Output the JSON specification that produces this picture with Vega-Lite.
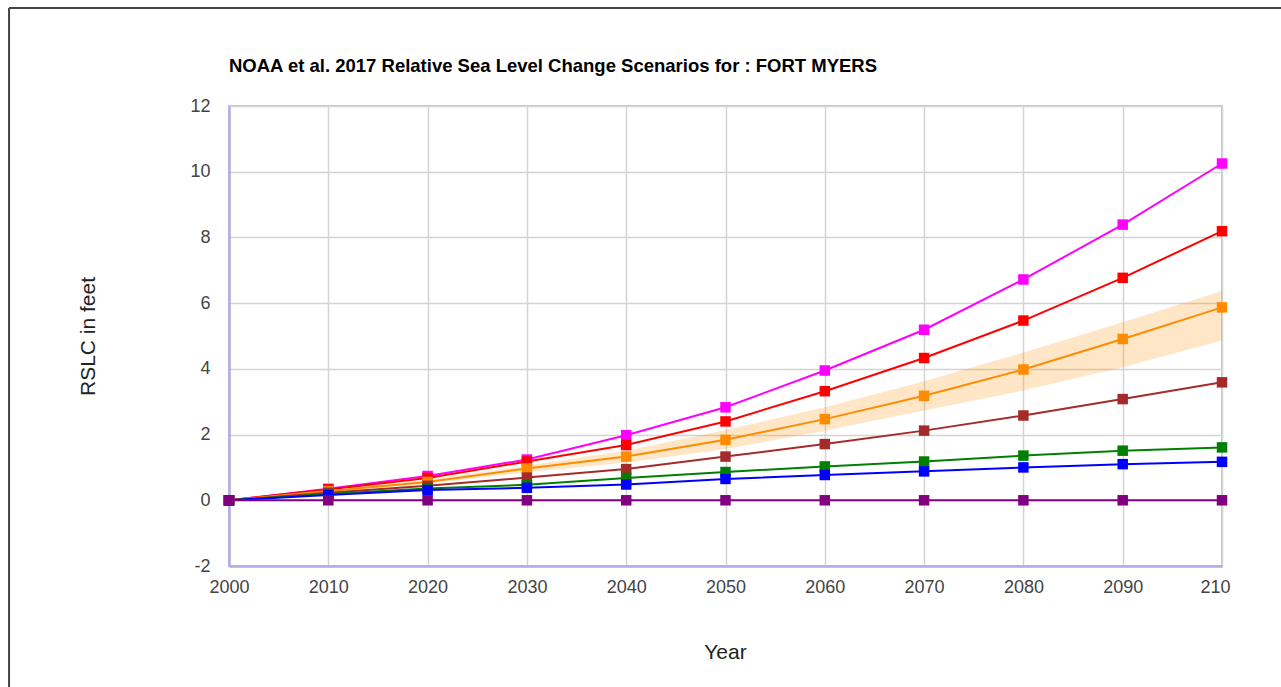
{
 "$schema": "https://vega.github.io/schema/vega-lite/v6.json",
 "width": 993, "height": 460,
 "autosize": {"type": "none"},
 "padding": {"left": 229, "top": 106, "right": 59, "bottom": 121},
 "background": "white",
 "title": {"text": "NOAA et al. 2017 Relative Sea Level Change Scenarios for : FORT MYERS", "anchor": "start", "frame": "group", "font": "Liberation Sans", "fontSize": 18.5, "fontWeight": "bold", "color": "#000", "offset": 7, "dy": 90, "baseline": "alphabetic"},
 "config": {"view": {"stroke": "#c6c1ea", "strokeWidth": 2}, "font": "Liberation Sans"},
 "datasets": {
  "band": [
   {"year": 2000, "lo": 0, "hi": 0},
   {"year": 2010, "lo": 0.25, "hi": 0.31},
   {"year": 2020, "lo": 0.5, "hi": 0.62},
   {"year": 2030, "lo": 0.85, "hi": 1.06},
   {"year": 2040, "lo": 1.15, "hi": 1.51},
   {"year": 2050, "lo": 1.56, "hi": 2.14},
   {"year": 2060, "lo": 2.12, "hi": 2.83},
   {"year": 2070, "lo": 2.73, "hi": 3.62},
   {"year": 2080, "lo": 3.34, "hi": 4.5},
   {"year": 2090, "lo": 4.05, "hi": 5.42},
   {"year": 2100, "lo": 4.86, "hi": 6.37}
  ],
  "frame": [{"id": 1}],
  "series": [
   {"scenario": "Extreme", "year": 2000, "value": 0},
   {"scenario": "Extreme", "year": 2010, "value": 0.35},
   {"scenario": "Extreme", "year": 2020, "value": 0.74},
   {"scenario": "Extreme", "year": 2030, "value": 1.24},
   {"scenario": "Extreme", "year": 2040, "value": 1.98},
   {"scenario": "Extreme", "year": 2050, "value": 2.83},
   {"scenario": "Extreme", "year": 2060, "value": 3.95},
   {"scenario": "Extreme", "year": 2070, "value": 5.19},
   {"scenario": "Extreme", "year": 2080, "value": 6.72},
   {"scenario": "Extreme", "year": 2090, "value": 8.39},
   {"scenario": "Extreme", "year": 2100, "value": 10.25},
   {"scenario": "High", "year": 2000, "value": 0},
   {"scenario": "High", "year": 2010, "value": 0.33},
   {"scenario": "High", "year": 2020, "value": 0.68},
   {"scenario": "High", "year": 2030, "value": 1.18},
   {"scenario": "High", "year": 2040, "value": 1.68},
   {"scenario": "High", "year": 2050, "value": 2.4},
   {"scenario": "High", "year": 2060, "value": 3.32},
   {"scenario": "High", "year": 2070, "value": 4.33},
   {"scenario": "High", "year": 2080, "value": 5.47},
   {"scenario": "High", "year": 2090, "value": 6.77},
   {"scenario": "High", "year": 2100, "value": 8.19},
   {"scenario": "Intermediate-High", "year": 2000, "value": 0},
   {"scenario": "Intermediate-High", "year": 2010, "value": 0.28},
   {"scenario": "Intermediate-High", "year": 2020, "value": 0.56},
   {"scenario": "Intermediate-High", "year": 2030, "value": 0.97},
   {"scenario": "Intermediate-High", "year": 2040, "value": 1.33},
   {"scenario": "Intermediate-High", "year": 2050, "value": 1.84},
   {"scenario": "Intermediate-High", "year": 2060, "value": 2.47},
   {"scenario": "Intermediate-High", "year": 2070, "value": 3.18},
   {"scenario": "Intermediate-High", "year": 2080, "value": 3.98},
   {"scenario": "Intermediate-High", "year": 2090, "value": 4.91},
   {"scenario": "Intermediate-High", "year": 2100, "value": 5.87},
   {"scenario": "Intermediate", "year": 2000, "value": 0},
   {"scenario": "Intermediate", "year": 2010, "value": 0.23},
   {"scenario": "Intermediate", "year": 2020, "value": 0.44},
   {"scenario": "Intermediate", "year": 2030, "value": 0.69},
   {"scenario": "Intermediate", "year": 2040, "value": 0.95},
   {"scenario": "Intermediate", "year": 2050, "value": 1.33},
   {"scenario": "Intermediate", "year": 2060, "value": 1.71},
   {"scenario": "Intermediate", "year": 2070, "value": 2.12},
   {"scenario": "Intermediate", "year": 2080, "value": 2.58},
   {"scenario": "Intermediate", "year": 2090, "value": 3.08},
   {"scenario": "Intermediate", "year": 2100, "value": 3.59},
   {"scenario": "Intermediate-Low", "year": 2000, "value": 0},
   {"scenario": "Intermediate-Low", "year": 2010, "value": 0.19},
   {"scenario": "Intermediate-Low", "year": 2020, "value": 0.36},
   {"scenario": "Intermediate-Low", "year": 2030, "value": 0.47},
   {"scenario": "Intermediate-Low", "year": 2040, "value": 0.68},
   {"scenario": "Intermediate-Low", "year": 2050, "value": 0.86},
   {"scenario": "Intermediate-Low", "year": 2060, "value": 1.03},
   {"scenario": "Intermediate-Low", "year": 2070, "value": 1.18},
   {"scenario": "Intermediate-Low", "year": 2080, "value": 1.36},
   {"scenario": "Intermediate-Low", "year": 2090, "value": 1.51},
   {"scenario": "Intermediate-Low", "year": 2100, "value": 1.61},
   {"scenario": "Low", "year": 2000, "value": 0},
   {"scenario": "Low", "year": 2010, "value": 0.16},
   {"scenario": "Low", "year": 2020, "value": 0.31},
   {"scenario": "Low", "year": 2030, "value": 0.38},
   {"scenario": "Low", "year": 2040, "value": 0.48},
   {"scenario": "Low", "year": 2050, "value": 0.65},
   {"scenario": "Low", "year": 2060, "value": 0.77},
   {"scenario": "Low", "year": 2070, "value": 0.88},
   {"scenario": "Low", "year": 2080, "value": 1.0},
   {"scenario": "Low", "year": 2090, "value": 1.1},
   {"scenario": "Low", "year": 2100, "value": 1.17},
   {"scenario": "Zero", "year": 2000, "value": 0},
   {"scenario": "Zero", "year": 2010, "value": 0},
   {"scenario": "Zero", "year": 2020, "value": 0},
   {"scenario": "Zero", "year": 2030, "value": 0},
   {"scenario": "Zero", "year": 2040, "value": 0},
   {"scenario": "Zero", "year": 2050, "value": 0},
   {"scenario": "Zero", "year": 2060, "value": 0},
   {"scenario": "Zero", "year": 2070, "value": 0},
   {"scenario": "Zero", "year": 2080, "value": 0},
   {"scenario": "Zero", "year": 2090, "value": 0},
   {"scenario": "Zero", "year": 2100, "value": 0}
  ]
 },
 "layer": [
  {
   "data": {"name": "band"},
   "mark": {"type": "area", "color": "#ff8c00", "opacity": 0.22},
   "encoding": {
    "x": {"field": "year", "type": "quantitative",
     "scale": {"domain": [2000, 2100], "nice": false, "zero": false},
     "axis": {"values": [2000, 2010, 2020, 2030, 2040, 2050, 2060, 2070, 2080, 2090, 2100],
      "labelExpr": "datum.value == 2100 ? '210' : datum.value + ''",
      "labelFlush": false,
      "labelOffset": {"condition": {"test": "datum.value == 2100", "value": -7}, "value": 0},
      "grid": true, "gridColor": "#d4d4d4", "gridWidth": 1.5,
      "ticks": false, "domainColor": "#b3abe3", "domainWidth": 2.5,
      "labelFont": "Liberation Sans", "labelFontSize": 18, "labelColor": "#444", "labelPadding": 12,
      "title": "Year", "titleFont": "Liberation Sans", "titleFontSize": 21, "titleFontWeight": "normal", "titleColor": "#222",
      "titleX": 496, "titleY": 92, "titleAlign": "center", "titleBaseline": "alphabetic"}},
    "y": {"field": "lo", "type": "quantitative",
     "scale": {"domain": [-2, 12], "nice": false, "zero": false},
     "axis": {"values": [-2, -1, 0, 1, 2, 3, 4, 5, 6, 7, 8, 9, 10, 11, 12],
      "labelExpr": "datum.value % 2 == 0 ? datum.value + '' : ''",
      "labelFlush": false,
      "grid": true,
      "gridColor": {"condition": {"test": "datum.value % 2 == 0", "value": "#d4d4d4"}, "value": "#ececec"},
      "gridWidth": 1.5,
      "ticks": false, "domainColor": "#b3abe3", "domainWidth": 2.5,
      "labelFont": "Liberation Sans", "labelFontSize": 18, "labelColor": "#444", "labelPadding": 19,
      "title": "RSLC in feet", "titleFont": "Liberation Sans", "titleFontSize": 21, "titleFontWeight": "normal", "titleColor": "#222",
      "titleX": -135, "titleY": 230, "titleAngle": 270, "titleAlign": "center", "titleBaseline": "alphabetic"}},
    "y2": {"field": "hi"}
   }
  },
  {
   "data": {"name": "series"},
   "mark": {"type": "line", "strokeWidth": 2},
   "encoding": {
    "x": {"field": "year", "type": "quantitative"},
    "y": {"field": "value", "type": "quantitative"},
    "strokeWidth": {"condition": {"test": "datum.scenario == 'Intermediate-High'", "value": 2.6}, "value": 2},
    "color": {"field": "scenario", "type": "nominal",
     "scale": {"domain": ["Extreme", "High", "Intermediate-High", "Intermediate", "Intermediate-Low", "Low", "Zero"],
      "range": ["#ff00ff", "#ff0000", "#ff8c00", "#a52a2a", "#008000", "#0000ff", "#800080"]},
     "legend": null}
   }
  },
  {
   "data": {"name": "series"},
   "mark": {"type": "point", "shape": "square", "filled": true, "size": 110, "opacity": 1},
   "encoding": {
    "x": {"field": "year", "type": "quantitative"},
    "y": {"field": "value", "type": "quantitative"},
    "color": {"field": "scenario", "type": "nominal", "legend": null}
   }
  },
  {
   "data": {"name": "frame"},
   "mark": {"type": "rule", "color": "#444", "strokeWidth": 2, "clip": false},
   "encoding": {
    "x": {"datum": 1977.85},
    "y": {"datum": 14.98},
    "y2": {"datum": -8}
   }
  },
  {
   "data": {"name": "frame"},
   "mark": {"type": "rule", "color": "#444", "strokeWidth": 2, "clip": false},
   "encoding": {
    "y": {"datum": 14.98},
    "x": {"datum": 1977.85},
    "x2": {"datum": 2115}
   }
  }
 ]
}
